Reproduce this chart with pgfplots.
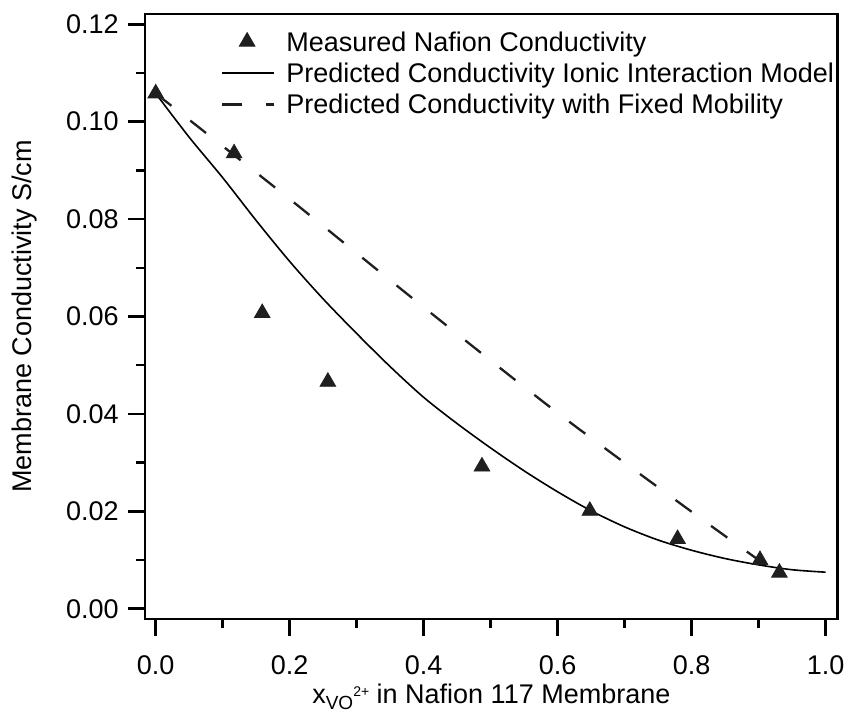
\documentclass[border=0pt]{standalone}
\usepackage{fontspec}
\setmainfont{Liberation Sans}
\usepackage{pgfplots}
\pgfplotsset{compat=1.18}
\pgfplotsset{
  mymarklegend/.style={legend image code/.code={\path (0pt,0pt) (25pt,0pt); \draw[##1] plot coordinates {(12.5pt,1.4pt)};}},
  mylinelegend/.style={legend image code/.code={\draw[##1] (0pt,1.4pt) -- (26pt,1.4pt);}},
}
\begin{document}
\fontsize{13.5}{16}\selectfont
\begin{tikzpicture}
\useasboundingbox (-72.5pt,-46pt) rectangle (351.5pt,309.5pt);
\begin{axis}[
  scale only axis,
  width=346.35pt, height=302.5pt,
  xmin=-0.016, xmax=1.018,
  ymin=-0.00211, ymax=0.12211,
  xtick={0,0.2,0.4,0.6,0.8,1.0},
  ytick={0,0.02,0.04,0.06,0.08,0.1,0.12},
  minor tick num=1,
  xtick pos=left, ytick pos=left,
  tick align=outside,
  major tick length=8.5pt, minor tick length=4.5pt,
  tick style={line width=1.25pt, black},
  axis line style={line width=1.35pt},
  /pgf/number format/assume math mode=true,
  xticklabel style={yshift=-5pt, /pgf/number format/.cd, fixed, fixed zerofill, precision=1},
  yticklabel style={/pgf/number format/.cd, fixed, fixed zerofill, precision=2},
  scaled ticks=false,
  clip=false,
  xlabel={x\raisebox{-2.8pt}{\fontsize{9.5}{10}\selectfont VO}\raisebox{3.5pt}{\fontsize{7}{8}\selectfont 2+} in Nafion 117 Membrane},
  ylabel={Membrane Conductivity S/cm},
  xlabel style={at={(axis description cs:0.5,-0.1405)}, anchor=base},
  ylabel style={at={(axis description cs:-0.1636,0.5)}, anchor=base},
  legend cell align=left,
  legend style={at={(axis description cs:0.1097,0.9707)}, anchor=north west,
    draw=none, fill=none, inner sep=0pt, outer sep=0pt,
    row sep=3pt, column sep=5.5pt,
    nodes={inner sep=0pt, text height=9.7pt, text depth=3pt}},
]
\addplot[only marks, mark=triangle*, mark size=4.5pt, color=black!88, mymarklegend]
  coordinates {
  (0,0.1058) (0.117,0.0935) (0.159,0.0607) (0.257,0.0466) (0.487,0.0292)
  (0.648,0.0201) (0.779,0.0143) (0.902,0.0100) (0.931,0.0074)};
\addlegendentry{Measured Nafion Conductivity}
\addplot[black, line width=0.8pt, smooth, mylinelegend]
  coordinates {
  (0,0.1058) (0.05,0.0968) (0.1,0.0885) (0.15,0.0797) (0.2,0.0713) (0.25,0.0636)
  (0.3,0.0565) (0.35,0.0497) (0.4,0.0434) (0.45,0.0380) (0.5,0.0330) (0.55,0.0283)
  (0.6,0.0240) (0.65,0.0201) (0.7,0.0168) (0.75,0.0141) (0.8,0.0120) (0.85,0.0103)
  (0.9,0.0090) (0.95,0.0080) (1.0,0.0075)};
\addlegendentry{Predicted Conductivity Ionic Interaction Model}
\addplot[black!88, line width=1.15pt, smooth, dash pattern=on 10pt off 12pt, mylinelegend]
  coordinates {
  (0,0.1058) (0.2,0.0841) (0.4,0.0619) (0.6,0.0402) (0.8,0.0199) (0.9,0.0100)};
\addlegendentry{Predicted Conductivity with Fixed Mobility}
\end{axis}
\end{tikzpicture}
\end{document}
